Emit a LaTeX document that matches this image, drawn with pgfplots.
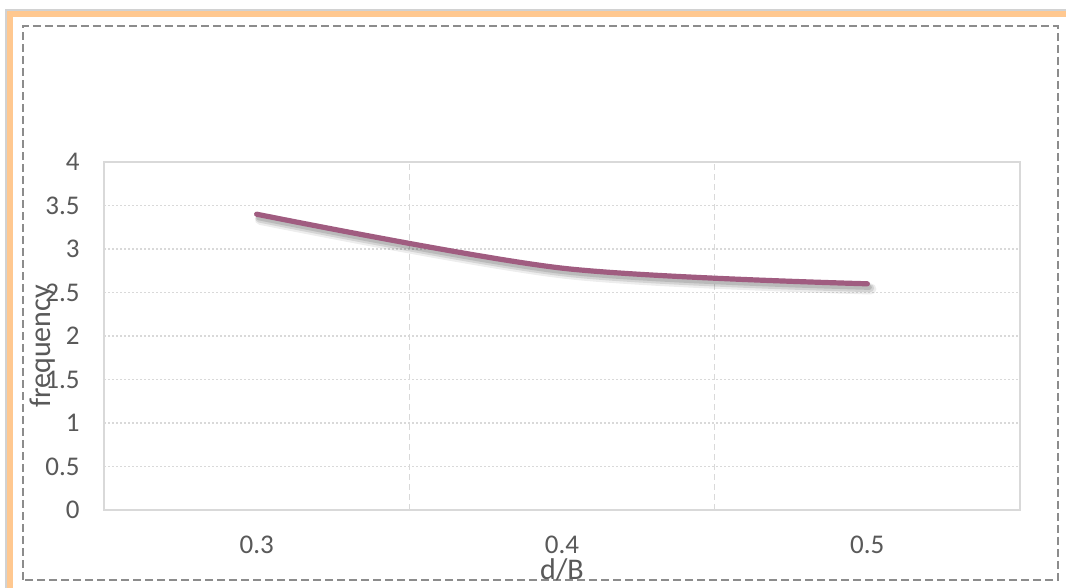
\documentclass[border=0pt]{standalone}
\usepackage{pgfplots}
\pgfplotsset{compat=1.18}
\usepackage{fontspec}
\setmainfont{Carlito}
\definecolor{txt}{HTML}{595959}
\definecolor{gridc}{HTML}{D9D9D9}
\definecolor{linec}{HTML}{A05C80}
\definecolor{framec}{HTML}{FFC890}
\definecolor{dashc}{HTML}{8C8C8C}
\begin{document}
\begin{tikzpicture}[x=1pt,y=1pt]
% page area
\useasboundingbox (0,0) rectangle (533,294);
\fill[white] (0,0) rectangle (533,294);
% outer frame
\draw[gray!35, line width=0.6pt] (3,0) -- (3,289) -- (533,289);
\draw[framec, line width=3pt, line join=miter] (5,0) -- (5,287) -- (533,287);
\draw[dashc, line width=0.7pt, dash pattern=on 4pt off 2pt] (11.5,4) rectangle (529,281);
\begin{axis}[
  at={(52pt,39pt)}, anchor=south west,
  scale only axis, width=458pt, height=174pt,
  xmin=-0.5, xmax=2.5, ymin=0, ymax=4,
  xtick={0,1,2}, xticklabels={0.3,0.4,0.5},
  ytick={0,0.5,...,4},
  yticklabels={0,0.5,1,1.5,2,2.5,3,3.5,4},
  minor xtick={0.5,1.5},
  xminorgrids, ymajorgrids,
  major tick length=0pt, minor tick length=0pt,
  axis line style={gridc, line width=0.8pt},
  y grid style={gridc, line width=0.7pt, dash pattern=on 1pt off 1pt},
  minor x grid style={gridc, line width=0.7pt, dash pattern=on 3pt off 2pt},
  tick label style={font=\fontsize{13.5}{15}\selectfont, text=txt, inner sep=0pt},
  yticklabel style={anchor=east, xshift=-12pt},
  xticklabel style={anchor=north, yshift=-13pt},
  xlabel={d/B}, ylabel={frequency},
  label style={font=\fontsize{15}{17}\selectfont, text=txt, inner sep=0pt},
  xlabel style={at={(axis description cs:0.5,-0.172)}, anchor=center},
  ylabel style={at={(axis description cs:-0.067,0.47)}, anchor=center, rotate=0},
  clip=false,
]
% soft shadow under the curve
\addplot[smooth, tension=0.5, black, opacity=0.07, line width=5.5pt, line cap=round, xshift=1.8pt, yshift=-2.6pt] coordinates {(0,3.4) (1,2.78) (2,2.6)};
\addplot[smooth, tension=0.5, black, opacity=0.10, line width=4pt, line cap=round, xshift=1.4pt, yshift=-2.2pt] coordinates {(0,3.4) (1,2.78) (2,2.6)};
\addplot[smooth, tension=0.5, black, opacity=0.12, line width=2.5pt, line cap=round, xshift=1pt, yshift=-1.8pt] coordinates {(0,3.4) (1,2.78) (2,2.6)};
% frequency vs d/B
\addplot[smooth, tension=0.5, linec, line width=2.6pt, line cap=round] coordinates {(0,3.4) (1,2.78) (2,2.6)};
\end{axis}
\end{tikzpicture}
\end{document}
